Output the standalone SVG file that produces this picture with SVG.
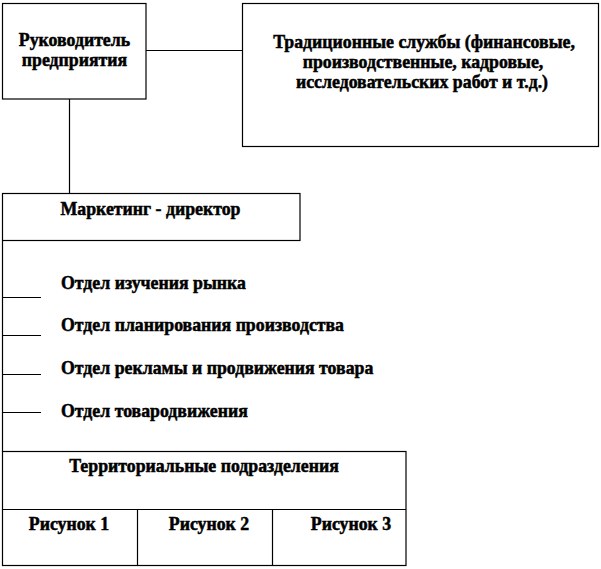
<svg xmlns="http://www.w3.org/2000/svg" width="601" height="569" viewBox="0 0 601 569">
<style>
rect, line { fill: none; stroke: #000; stroke-width: 1.2; }
text { font-family: "Liberation Serif", "Times New Roman", serif; font-weight: bold; font-size: 17.8px; fill: #000; stroke: #000; stroke-width: 0.5; }
.c { text-anchor: middle; }
</style>
<rect x="0" y="0" width="601" height="569" style="fill:#fff;stroke:none"/>
<g id="connectors">
<line x1="146" y1="50.5" x2="242" y2="50.5"/>
<line x1="69.5" y1="99" x2="69.5" y2="193"/>
<line x1="2.5" y1="241" x2="2.5" y2="451.5"/>
<line x1="2.5" y1="297.5" x2="41" y2="297.5"/>
<line x1="2.5" y1="335.5" x2="41" y2="335.5"/>
<line x1="2.5" y1="374.5" x2="41" y2="374.5"/>
<line x1="2.5" y1="412.5" x2="41" y2="412.5"/>
</g>
<g id="head">
<rect x="2.5" y="3.5" width="143.5" height="95.5"/>
<text class="c" x="74.5" y="46">Руководитель</text>
<text class="c" x="74.5" y="66">предприятия</text>
</g>
<g id="services">
<rect x="242.5" y="3.5" width="356" height="143"/>
<text class="c" x="424" y="48">Традиционные службы (финансовые,</text>
<text class="c" x="423" y="68">производственные, кадровые,</text>
<text class="c" x="422" y="88">исследовательских работ и т.д.)</text>
</g>
<g id="marketing">
<rect x="2.5" y="193.5" width="297.5" height="47"/>
<text class="c" x="150.5" y="215">Маркетинг - директор</text>
</g>
<g id="dept1"><text x="61" y="289">Отдел изучения рынка</text></g>
<g id="dept2"><text x="61" y="331">Отдел планирования производства</text></g>
<g id="dept3"><text x="61" y="374">Отдел рекламы и продвижения товара</text></g>
<g id="dept4"><text x="61" y="416.5">Отдел товародвижения</text></g>
<g id="territorial">
<rect x="2.5" y="451.5" width="403.5" height="114"/>
<line x1="2.5" y1="509.5" x2="406" y2="509.5"/>
<line x1="137.5" y1="509.5" x2="137.5" y2="565.5"/>
<line x1="272.5" y1="509.5" x2="272.5" y2="565.5"/>
<text class="c" x="204" y="472">Территориальные подразделения</text>
<text class="c" x="69" y="530">Рисунок 1</text>
<text class="c" x="209" y="530">Рисунок 2</text>
<text class="c" x="351" y="530">Рисунок 3</text>
</g>
</svg>
